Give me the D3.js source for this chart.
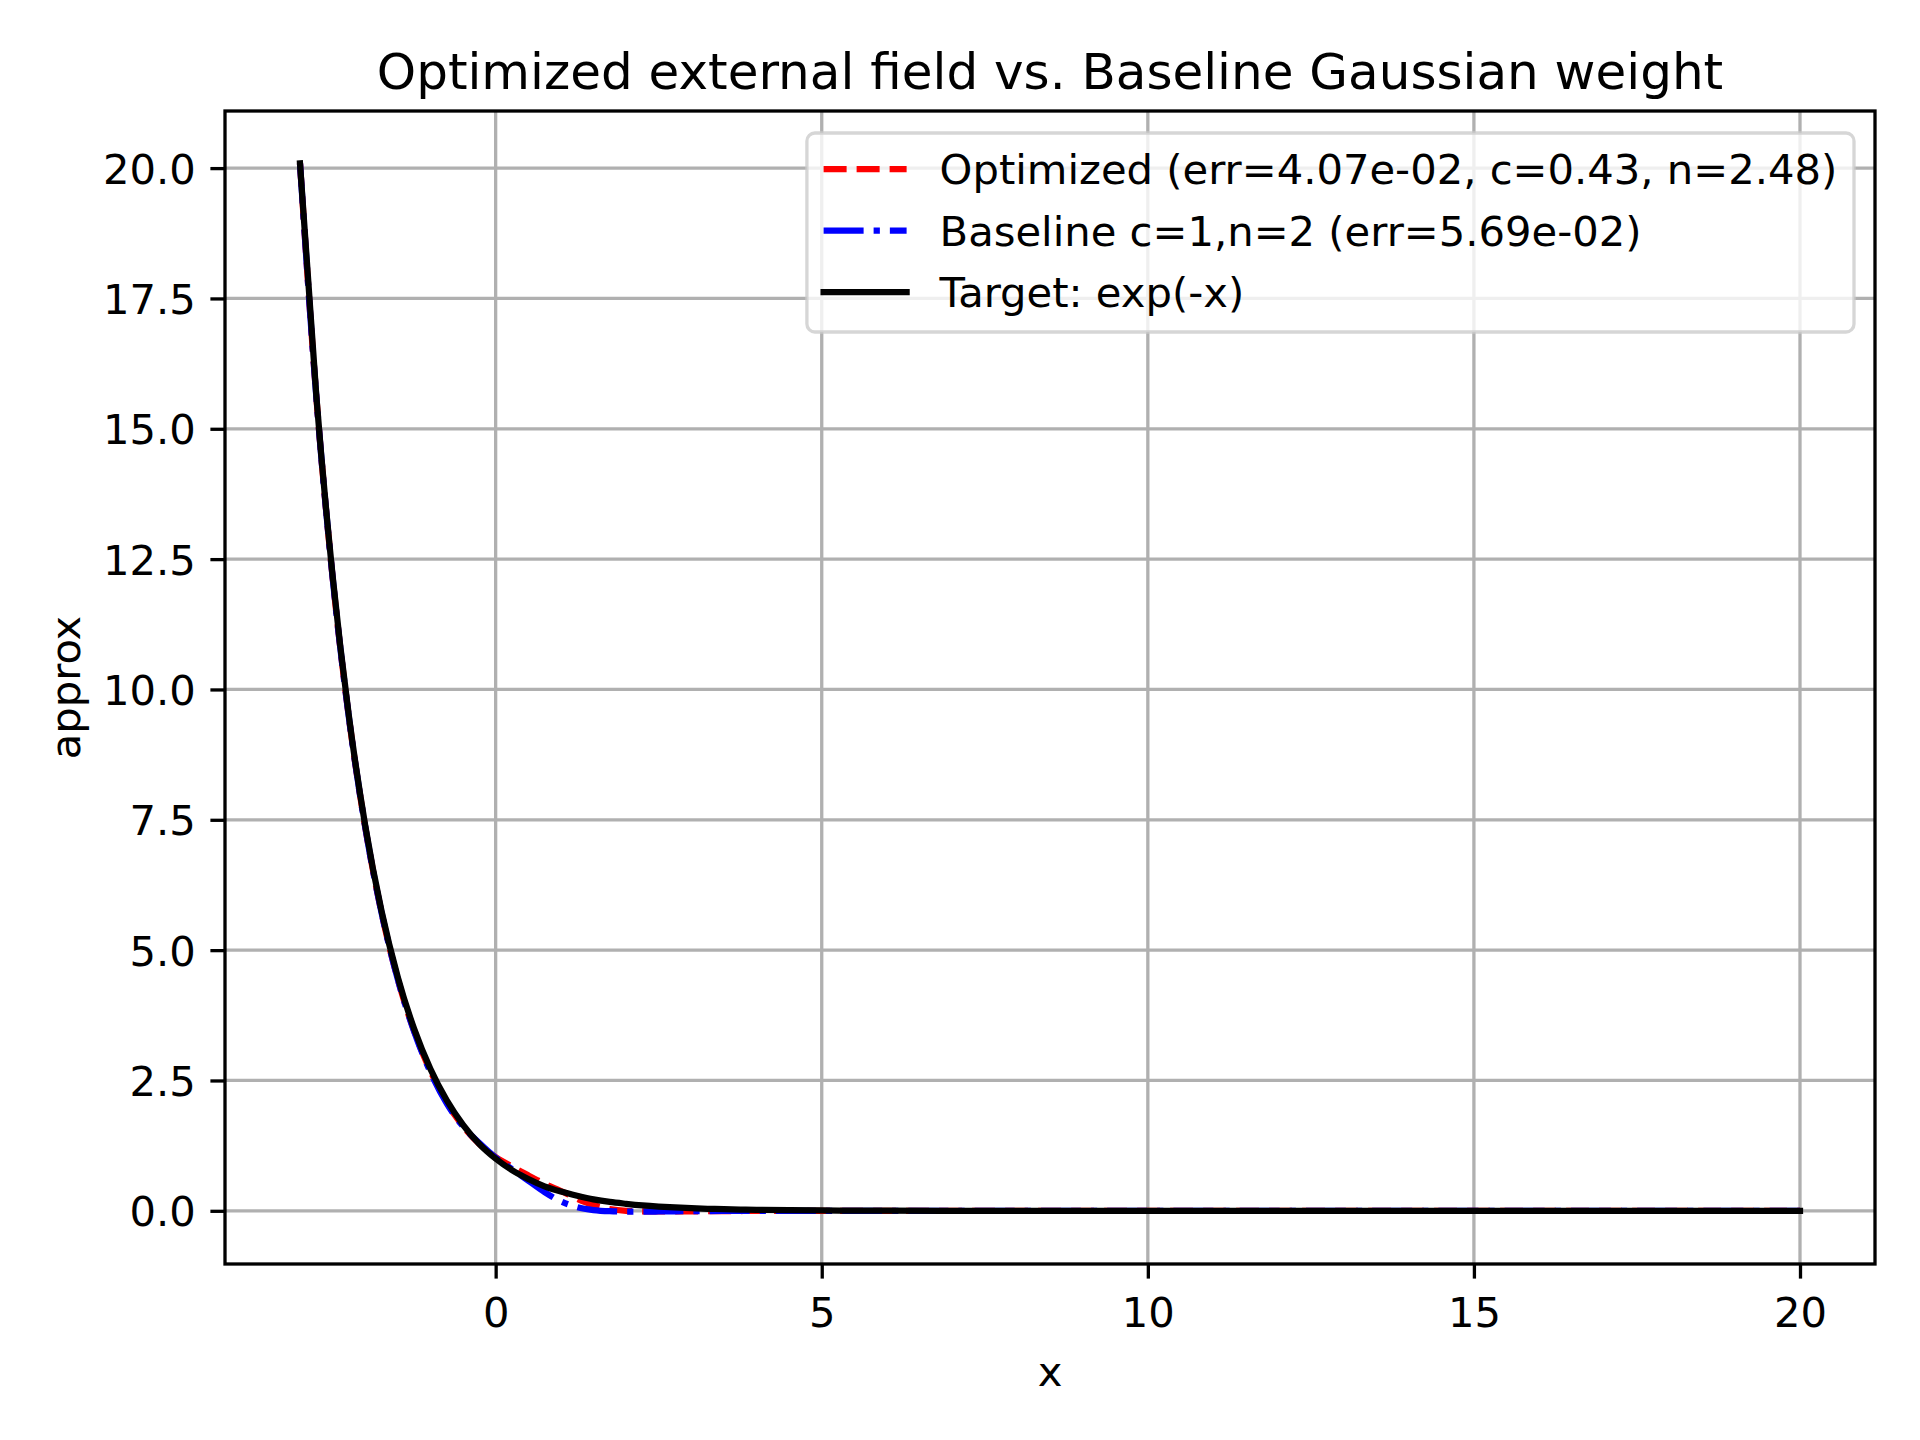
<!DOCTYPE html>
<html>
<head>
<meta charset="utf-8">
<script src="https://cdn.jsdelivr.net/npm/d3@7"></script>
<style>
  html, body { margin: 0; padding: 0; background: #fff; }
  svg { display: block; font-family: "DejaVu Sans", sans-serif; }
</style>
</head>
<body>
<svg id="chart" width="1920" height="1440"></svg>
<script>
// sample points
const xs = [-3, -2.75, -2.5, -2.25, -2, -1.75, -1.5, -1.25, -1, -0.75, -0.5, -0.25,
  0, 0.25, 0.5, 0.75, 1, 1.25, 1.5, 1.75, 2, 2.25, 2.5, 2.75, 3, 3.25, 3.5, 3.75,
  4, 4.5, 5, 6, 7, 8, 10, 12, 14, 16, 18, 20];

const targetVals = [20.09, 15.64, 12.18, 9.49, 7.39, 5.75, 4.48, 3.49, 2.72, 2.12, 1.65, 1.28,
  1.00, 0.78, 0.61, 0.47, 0.37, 0.29, 0.22, 0.17, 0.135, 0.105, 0.082, 0.064, 0.050, 0.039, 0.030, 0.024,
  0.018, 0.011, 0.0067, 0.0025, 0.0009, 0.0003, 0, 0, 0, 0, 0, 0];

const optimizedVals = [20.09, 15.62, 12.15, 9.46, 7.36, 5.72, 4.44, 3.45, 2.68, 2.08, 1.62, 1.28,
  1.03, 0.85, 0.68, 0.52, 0.38, 0.23, 0.11, 0.035, 0.0, -0.01, -0.012, -0.012, -0.01, -0.008, -0.006, -0.004,
  -0.002, -0.001, 0, 0, 0, 0, 0, 0, 0, 0, 0, 0];

const baselineVals = [20.09, 15.62, 12.15, 9.46, 7.36, 5.72, 4.44, 3.44, 2.66, 2.06, 1.62, 1.30,
  1.02, 0.80, 0.58, 0.36, 0.18, 0.07, 0.015, -0.008, -0.015, -0.015, -0.013, -0.01, -0.007, -0.005, -0.003, -0.002,
  -0.001, 0, 0, 0, 0, 0, 0, 0, 0, 0, 0, 0];

const seriesNames = [
  'Optimized (err=4.07e-02, c=0.43, n=2.48)',
  'Baseline c=1,n=2 (err=5.69e-02)',
  'Target: exp(-x)'
];
const seriesColors = ['#ff0000', '#0000ff', '#000000'];
const seriesDash = ['23,10', '40,10,6.25,10', null];

const xTicks = [0, 5, 10, 15, 20];
const yTicks = [0, 2.5, 5, 7.5, 10, 12.5, 15, 17.5, 20];

const svg = d3.select('#chart');
const margin = { top: 111, right: 45, bottom: 176, left: 225 };
const W = 1920, H = 1440;
const plotW = W - margin.left - margin.right;
const plotH = H - margin.top - margin.bottom;
const fs = 41.7;

// matplotlib-style 5% margins
const xExt = d3.extent(xs);
const allY = targetVals.concat(optimizedVals, baselineVals);
const yExt = d3.extent(allY);
const xPad = (xExt[1] - xExt[0]) * 0.05;
const yPad = (yExt[1] - yExt[0]) * 0.05;

const x = d3.scaleLinear().domain([xExt[0] - xPad, xExt[1] + xPad]).range([0, plotW]);
const y = d3.scaleLinear().domain([yExt[0] - yPad, yExt[1] + yPad]).range([plotH, 0]);

const g = svg.append('g').attr('transform', `translate(${margin.left},${margin.top})`);

// grid
g.append('g').selectAll('line').data(xTicks).enter().append('line')
  .attr('x1', d => x(d)).attr('x2', d => x(d)).attr('y1', 0).attr('y2', plotH)
  .attr('stroke', '#b0b0b0').attr('stroke-width', 3.3);
g.append('g').selectAll('line').data(yTicks).enter().append('line')
  .attr('y1', d => y(d)).attr('y2', d => y(d)).attr('x1', 0).attr('x2', plotW)
  .attr('stroke', '#b0b0b0').attr('stroke-width', 3.3);

// curves
g.append('clipPath').attr('id', 'clip').append('rect')
  .attr('width', plotW).attr('height', plotH);

const series = [optimizedVals, baselineVals, targetVals];
const line = d3.line()
  .x((d, i) => x(xs[i]))
  .y(d => y(d))
  .curve(d3.curveMonotoneX);

series.forEach((vals, k) => {
  const p = g.append('path')
    .datum(vals)
    .attr('clip-path', 'url(#clip)')
    .attr('d', line)
    .attr('fill', 'none')
    .attr('stroke', seriesColors[k])
    .attr('stroke-width', 6.25)
    .attr('stroke-linejoin', 'round')
    .attr('stroke-linecap', k === 2 ? 'square' : 'butt');
  if (seriesDash[k]) p.attr('stroke-dasharray', seriesDash[k]);
});

// axes
const xAxis = d3.axisBottom(x).tickValues(xTicks).tickSize(14.6).tickPadding(14.6).tickFormat(d3.format('d'));
const yAxis = d3.axisLeft(y).tickValues(yTicks).tickSize(14.6).tickPadding(14.6).tickFormat(d3.format('.1f'));

const gx = g.append('g').attr('transform', `translate(0,${plotH})`).call(xAxis);
const gy = g.append('g').call(yAxis);
[gx, gy].forEach(a => {
  a.select('.domain').remove();
  a.selectAll('.tick line').attr('stroke', '#000').attr('stroke-width', 3.3);
  a.selectAll('.tick text').attr('fill', '#000').attr('font-size', fs)
    .attr('font-family', '"DejaVu Sans", sans-serif');
});
gx.selectAll('.tick text').attr('dy', '0.82em');
gy.selectAll('.tick text').attr('dy', '0.36em');

// spines
g.append('rect').attr('width', plotW).attr('height', plotH)
  .attr('fill', 'none').attr('stroke', '#000').attr('stroke-width', 3.3);

// title and labels
svg.append('text')
  .attr('x', margin.left + plotW / 2).attr('y', 89)
  .attr('text-anchor', 'middle').attr('font-size', 50).attr('fill', '#000')
  .text('Optimized external field vs. Baseline Gaussian weight');

svg.append('text')
  .attr('x', margin.left + plotW / 2).attr('y', 1386)
  .attr('text-anchor', 'middle').attr('font-size', fs).attr('fill', '#000')
  .text('x');

svg.append('text')
  .attr('transform', `translate(80,${margin.top + plotH / 2}) rotate(-90)`)
  .attr('text-anchor', 'middle').attr('font-size', fs).attr('fill', '#000')
  .text('approx');

// legend
const leg = g.append('g');
const legBox = leg.append('rect');
const labels = [];
seriesNames.forEach((name, k) => {
  labels.push(leg.append('text').attr('font-size', fs).attr('fill', '#000').text(name));
});
const maxLen = d3.max(labels, t => t.node().getComputedTextLength());
const pad = 16.7, handleLen = 83, textPad = 33, rowH = 61.5;
const legRight = plotW - 21;
const legTop = 22;
const legW = pad + handleLen + textPad + maxLen + pad;
const legLeft = legRight - legW;
const legH = 199;
legBox.attr('x', legLeft).attr('y', legTop).attr('width', legW).attr('height', legH)
  .attr('rx', 8).attr('fill', '#fff').attr('fill-opacity', 0.8)
  .attr('stroke', '#cccccc').attr('stroke-opacity', 0.8).attr('stroke-width', 3.3);

seriesNames.forEach((name, k) => {
  const cy = legTop + 36 + k * rowH;
  const hl = leg.append('line')
    .attr('x1', legLeft + pad).attr('x2', legLeft + pad + handleLen)
    .attr('y1', cy).attr('y2', cy)
    .attr('stroke', seriesColors[k]).attr('stroke-width', 6.25)
    .attr('stroke-linecap', k === 2 ? 'square' : 'butt');
  if (seriesDash[k]) hl.attr('stroke-dasharray', seriesDash[k]);
  labels[k].attr('x', legLeft + pad + handleLen + textPad).attr('y', cy + 15);
});
</script>
</body>
</html>
